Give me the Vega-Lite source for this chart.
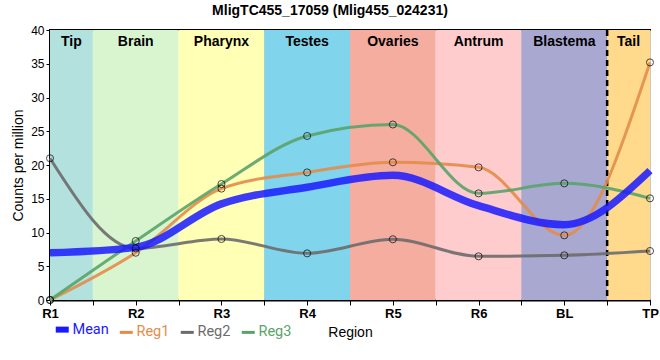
{
  "$schema": "https://vega.github.io/schema/vega-lite/v6.json",
  "autosize": {"type": "none"},
  "width": 600,
  "height": 270,
  "padding": {"left": 50, "top": 30, "right": 10, "bottom": 60},
  "background": "white",
  "title": {"text": "MligTC455_17059 (Mlig455_024231)", "font": "Liberation Sans", "fontSize": 14, "fontWeight": "bold", "color": "black", "offset": 6, "dx": -20},
  "datasets": {
    "regions": [
      {"name": "Tip", "start": 0, "end": 0.5, "center": 0.25},
      {"name": "Brain", "start": 0.5, "end": 1.5, "center": 1},
      {"name": "Pharynx", "start": 1.5, "end": 2.5, "center": 2},
      {"name": "Testes", "start": 2.5, "end": 3.5, "center": 3},
      {"name": "Ovaries", "start": 3.5, "end": 4.5, "center": 4},
      {"name": "Antrum", "start": 4.5, "end": 5.5, "center": 5},
      {"name": "Blastema", "start": 5.5, "end": 6.5, "center": 6},
      {"name": "Tail", "start": 6.5, "end": 7, "center": 6.75}
    ],
    "counts": [
      {"pos": 0, "loc": "R1", "series": "Reg1", "value": 0},
      {"pos": 1, "loc": "R2", "series": "Reg1", "value": 7.0},
      {"pos": 2, "loc": "R3", "series": "Reg1", "value": 16.5},
      {"pos": 3, "loc": "R4", "series": "Reg1", "value": 18.9},
      {"pos": 4, "loc": "R5", "series": "Reg1", "value": 20.4},
      {"pos": 5, "loc": "R6", "series": "Reg1", "value": 19.65},
      {"pos": 6, "loc": "BL", "series": "Reg1", "value": 9.58},
      {"pos": 7, "loc": "TP", "series": "Reg1", "value": 35.2},
      {"pos": 0, "loc": "R1", "series": "Reg2", "value": 21.0},
      {"pos": 1, "loc": "R2", "series": "Reg2", "value": 7.65},
      {"pos": 2, "loc": "R3", "series": "Reg2", "value": 9.04},
      {"pos": 3, "loc": "R4", "series": "Reg2", "value": 6.91},
      {"pos": 4, "loc": "R5", "series": "Reg2", "value": 9.0},
      {"pos": 5, "loc": "R6", "series": "Reg2", "value": 6.47},
      {"pos": 6, "loc": "BL", "series": "Reg2", "value": 6.62},
      {"pos": 7, "loc": "TP", "series": "Reg2", "value": 7.26},
      {"pos": 0, "loc": "R1", "series": "Reg3", "value": 0},
      {"pos": 1, "loc": "R2", "series": "Reg3", "value": 8.74},
      {"pos": 2, "loc": "R3", "series": "Reg3", "value": 17.18},
      {"pos": 3, "loc": "R4", "series": "Reg3", "value": 24.3},
      {"pos": 4, "loc": "R5", "series": "Reg3", "value": 26.0},
      {"pos": 5, "loc": "R6", "series": "Reg3", "value": 15.8},
      {"pos": 6, "loc": "BL", "series": "Reg3", "value": 17.28},
      {"pos": 7, "loc": "TP", "series": "Reg3", "value": 15.06},
      {"pos": 0, "loc": "R1", "series": "Mean", "value": 7.0},
      {"pos": 1, "loc": "R2", "series": "Mean", "value": 7.8},
      {"pos": 2, "loc": "R3", "series": "Mean", "value": 14.24},
      {"pos": 3, "loc": "R4", "series": "Mean", "value": 16.7},
      {"pos": 4, "loc": "R5", "series": "Mean", "value": 18.47},
      {"pos": 5, "loc": "R6", "series": "Mean", "value": 13.97},
      {"pos": 6, "loc": "BL", "series": "Mean", "value": 11.16},
      {"pos": 7, "loc": "TP", "series": "Mean", "value": 19.17}
    ]
  },
  "layer": [
    {
      "data": {"name": "regions"},
      "mark": {"type": "rect"},
      "encoding": {
        "x": {"field": "start", "type": "quantitative", "scale": {"domain": [0, 7], "nice": false, "zero": false}, "title": "Region"},
        "x2": {"field": "end"},
        "fill": {"field": "name", "type": "nominal", "legend": null,
          "scale": {"domain": ["Tip", "Brain", "Pharynx", "Testes", "Ovaries", "Antrum", "Blastema", "Tail"],
                    "range": ["#b3e2de", "#d9f5d0", "#ffffb5", "#80d4ec", "#f5ad9f", "#ffccce", "#a9a8d0", "#ffda8c"]}}
      }
    },
    {
      "data": {"name": "regions"},
      "transform": [{"filter": "datum.name === 'Blastema'"}],
      "mark": {"type": "rule", "color": "black", "strokeWidth": 2.5, "strokeDash": [6, 4]},
      "encoding": {"x": {"field": "end", "type": "quantitative"}}
    },
    {
      "data": {"name": "regions"},
      "mark": {"type": "text", "font": "Liberation Sans", "fontSize": 14, "fontWeight": "bold", "color": "black", "baseline": "top", "dy": 5},
      "encoding": {
        "x": {"field": "center", "type": "quantitative"},
        "y": {"datum": 40, "type": "quantitative"},
        "text": {"field": "name"}
      }
    },
    {
      "data": {"name": "counts"},
      "transform": [{"filter": "datum.series !== 'Mean'"}],
      "mark": {"type": "line", "interpolate": "monotone", "strokeWidth": 3, "strokeOpacity": 0.9},
      "encoding": {
        "x": {"field": "pos", "type": "quantitative"},
        "y": {"field": "value", "type": "quantitative", "scale": {"domain": [0, 40], "nice": false}, "title": "Counts per million"},
        "color": {"field": "series", "type": "nominal",
          "scale": {"domain": ["Mean", "Reg1", "Reg2", "Reg3"], "range": ["#1a1aff", "#e38c4a", "#6b6b6b", "#5aa36a"]},
          "legend": {
            "orient": "none", "legendX": 5, "legendY": 292, "direction": "horizontal", "title": null,
            "symbolType": "stroke", "symbolSize": 169, "symbolStrokeWidth": 3, "labelOffset": 3, "columnPadding": 4, "padding": 0,
            "labelFont": "Roboto", "labelFontSize": 14.5,
            "encode": {
              "labels": {"update": {"fill": {"scale": "color", "field": "value"}}},
              "symbols": {"update": {"strokeWidth": {"signal": "datum.value === 'Mean' ? 6 : 3"}}}
            }
          }
        },
        "detail": {"field": "series"}
      }
    },
    {
      "data": {"name": "counts"},
      "transform": [{"filter": "datum.series === 'Mean'"}],
      "mark": {"type": "line", "interpolate": "monotone", "strokeWidth": 7.5, "strokeOpacity": 0.85},
      "encoding": {
        "x": {"field": "pos", "type": "quantitative"},
        "y": {"field": "value", "type": "quantitative"},
        "color": {"field": "series", "type": "nominal"}
      }
    },
    {
      "data": {"name": "counts"},
      "transform": [{"filter": "datum.series !== 'Mean'"}],
      "mark": {"type": "point", "shape": "circle", "filled": false, "stroke": "black", "strokeWidth": 1, "size": 50},
      "encoding": {
        "x": {"field": "pos", "type": "quantitative"},
        "y": {"field": "value", "type": "quantitative"}
      }
    }
  ],
  "config": {
    "view": {"stroke": "black", "strokeWidth": 2},
    "axis": {"zindex": 1, "gridColor": "#c8c8c8", "gridWidth": 1, "domainColor": "black", "domainWidth": 2, "tickColor": "black", "labelColor": "black", "titleColor": "black", "titleFont": "Liberation Sans", "titleFontWeight": "normal", "titleFontSize": 14, "labelFont": "Liberation Sans"},
    "axisX": {"values": [0, 1, 2, 3, 4, 5, 6, 7], "labelExpr": "['R1','R2','R3','R4','R5','R6','BL','TP'][datum.value]", "labelFontWeight": "bold", "labelFontSize": 13, "tickSize": 5, "labelPadding": 2, "titlePadding": 5, "labelFlush": false},
    "axisY": {"values": [0, 5, 10, 15, 20, 25, 30, 35, 40], "labelFontSize": 12, "tickSize": 4, "labelPadding": 2, "titlePadding": 5}
  }
}
